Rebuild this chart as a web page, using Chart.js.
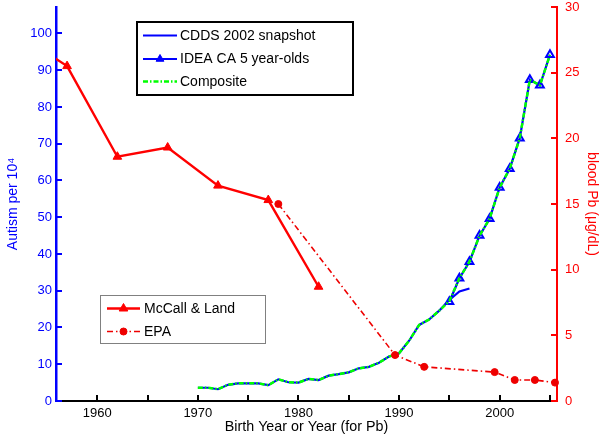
<!DOCTYPE html>
<html>
<head>
<meta charset="utf-8">
<script src="https://cdn.jsdelivr.net/npm/chart.js@4/dist/chart.umd.min.js"></script>
<style>
html,body{margin:0;padding:0;background:#fff;}
#wrap{width:600px;height:438px;position:relative;}
</style>
</head>
<body>
<div id="wrap"><canvas id="c" width="600" height="438"></canvas></div>
<script>
// ---- data ----
const cddsYears = [1970,1971,1972,1973,1974,1975,1976,1977,1978,1979,1980,1981,1982,1983,1984,1985,1986,1987,1988,1989,1990,1991,1992,1993,1994,1995,1996,1997];
const cddsValues = [3.6,3.6,3.2,4.4,4.8,4.8,4.8,4.3,5.9,5.1,5.0,6.0,5.7,6.9,7.3,7.8,8.9,9.3,10.4,12.1,13.0,16.4,20.7,22.2,24.6,27.5,29.8,30.6];

const ideaYears = [1995,1996,1997,1998,1999,2000,2001,2002,2003,2004,2005];
const ideaValues = [27.0,33.4,37.9,45.0,49.6,58.1,63.2,71.5,87.4,85.9,94.2];

const compositeYears = [1970,1971,1972,1973,1974,1975,1976,1977,1978,1979,1980,1981,1982,1983,1984,1985,1986,1987,1988,1989,1990,1991,1992,1993,1994,1995,1996,1997,1998,1999,2000,2001,2002,2003,2004,2005];
const compositeValues = [3.6,3.6,3.2,4.4,4.8,4.8,4.8,4.3,5.9,5.1,5.0,6.0,5.7,6.9,7.3,7.8,8.9,9.3,10.4,12.1,13.0,16.4,20.7,22.2,24.6,27.2,33.4,37.9,45.0,49.6,58.1,63.2,71.5,87.4,85.9,94.2];

const mccallYears = [1955,1957,1962,1967,1972,1977,1982];
const mccallValues = [26.5,25.5,18.6,19.3,16.4,15.3,8.7];

const epaYears = [1978,1989.6,1992.5,1999.5,2001.5,2003.5,2005.5];
const epaValues = [15.0,3.5,2.6,2.2,1.6,1.6,1.4];

const xTickLabels = [1960,1970,1980,1990,2000];

// ---- helpers ----
const pts = (xs, ys) => xs.map((x, i) => ({x: x, y: ys[i]}));
const FONT = '"Liberation Sans", Arial, Helvetica, sans-serif';
Chart.defaults.font.family = FONT;
Chart.defaults.animation = false;

const BLUE = '#0000ff', RED = '#ff0000', GREEN = '#00ff00', EPA_RED = '#ee0000';

// inward tick marks, MATLAB style
const inwardTicks = {
  id: 'inwardTicks',
  afterDraw(chart) {
    const ctx = chart.ctx, a = chart.chartArea;
    const sx = chart.scales.x, sy = chart.scales.y, sy2 = chart.scales.y2;
    ctx.save();
    ctx.lineWidth = 2;
    ctx.strokeStyle = '#000';
    sx.ticks.forEach(t => {
      const p = Math.round(sx.getPixelForValue(t.value));
      ctx.beginPath(); ctx.moveTo(p, a.bottom); ctx.lineTo(p, a.bottom - 6); ctx.stroke();
    });
    ctx.strokeStyle = BLUE;
    sy.ticks.forEach(t => {
      const p = Math.round(sy.getPixelForValue(t.value));
      ctx.beginPath(); ctx.moveTo(a.left, p); ctx.lineTo(a.left + 6, p); ctx.stroke();
    });
    ctx.strokeStyle = RED;
    sy2.ticks.forEach(t => {
      const p = Math.round(sy2.getPixelForValue(t.value));
      ctx.beginPath(); ctx.moveTo(a.right, p); ctx.lineTo(a.right - 6, p); ctx.stroke();
    });
    ctx.restore();
  }
};

// two boxed legends, drawn from the datasets' own styles
const boxLegends = {
  id: 'boxLegends',
  afterDraw(chart) {
    const ctx = chart.ctx;
    const ds = chart.data.datasets;
    const byLabel = l => ds.find(d => d.label === l);
    function frame(x, y, w, h, col, lw) {
      ctx.save();
      ctx.fillStyle = '#fff';
      ctx.fillRect(x, y, w, h);
      ctx.strokeStyle = col; ctx.lineWidth = lw;
      ctx.strokeRect(x, y, w, h);
      ctx.restore();
    }
    function marker(d, x, y) {
      if (!d.pointRadius) return;
      const r = d.pointRadius;
      ctx.save();
      ctx.fillStyle = d.legendMarkerFill || d.borderColor;
      ctx.strokeStyle = d.borderColor;
      ctx.lineWidth = 1;
      ctx.beginPath();
      if (d.pointStyle === 'triangle') {
        ctx.moveTo(x, y - r);
        ctx.lineTo(x + r * 0.866, y + r / 2);
        ctx.lineTo(x - r * 0.866, y + r / 2);
        ctx.closePath();
      } else {
        ctx.arc(x, y, r, 0, Math.PI * 2);
      }
      ctx.fill(); ctx.stroke();
      ctx.restore();
    }
    function row(label, x1, x2, y, tx) {
      const d = byLabel(label);
      ctx.save();
      ctx.strokeStyle = d.borderColor;
      ctx.lineWidth = d.borderWidth;
      ctx.setLineDash(d.borderDash || []);
      ctx.beginPath(); ctx.moveTo(x1, y); ctx.lineTo(x2, y); ctx.stroke();
      ctx.setLineDash([]);
      ctx.restore();
      marker(d, (x1 + x2) / 2, y);
      ctx.save();
      ctx.fillStyle = '#000';
      ctx.font = '14px ' + FONT;
      ctx.textBaseline = 'middle';
      ctx.textAlign = 'left';
      ctx.fillText(label, tx, y + 0.5);
      ctx.restore();
    }
    frame(137, 22, 216, 73, '#000', 2);
    row('CDDS 2002 snapshot', 143, 177, 35.5, 180);
    row('IDEA CA 5 year-olds', 143, 177, 59, 180);
    row('Composite', 143, 177, 81.5, 180);

    frame(100.5, 295.5, 165, 48, '#808080', 1);
    row('McCall & Land', 107, 140, 308.5, 144);
    row('EPA', 107, 140, 331.5, 144);
  }
};

const noPad = s => { s.paddingTop = 0; s.paddingBottom = 0; s.paddingLeft = 0; s.paddingRight = 0; };

new Chart(document.getElementById('c'), {
  type: 'line',
  data: {
    datasets: [
      {
        label: 'EPA', data: pts(epaYears, epaValues), yAxisID: 'y2',
        borderColor: EPA_RED, backgroundColor: EPA_RED, borderWidth: 1.6,
        borderDash: [6, 3, 1.5, 3], pointStyle: 'circle', pointRadius: 3.5,
        pointBorderWidth: 1, pointBackgroundColor: EPA_RED, pointBorderColor: EPA_RED,
        tension: 0, order: 0, clip: 8
      },
      {
        label: 'McCall & Land', data: pts(mccallYears, mccallValues), yAxisID: 'y2',
        borderColor: RED, backgroundColor: RED, borderWidth: 2.4,
        pointStyle: 'triangle', pointRadius: 5, pointBorderWidth: 1,
        pointBackgroundColor: RED, pointBorderColor: RED,
        tension: 0, order: 1, clip: 0
      },
      {
        label: 'Composite', data: pts(compositeYears, compositeValues), yAxisID: 'y',
        borderColor: GREEN, backgroundColor: GREEN, borderWidth: 2.5,
        borderDash: [5, 2, 1.5, 2], pointRadius: 0,
        tension: 0, order: 2
      },
      {
        label: 'IDEA CA 5 year-olds', data: pts(ideaYears, ideaValues), yAxisID: 'y',
        borderColor: BLUE, backgroundColor: 'rgba(0,0,0,0)', borderWidth: 2.2,
        pointStyle: 'triangle', pointRadius: 4.5, pointBorderWidth: 2,
        pointBackgroundColor: 'rgba(0,0,0,0)', pointBorderColor: BLUE,
        legendMarkerFill: BLUE,
        tension: 0, order: 3
      },
      {
        label: 'CDDS 2002 snapshot', data: pts(cddsYears, cddsValues), yAxisID: 'y',
        borderColor: BLUE, backgroundColor: BLUE, borderWidth: 2.2,
        pointRadius: 0, tension: 0, order: 4
      }
    ]
  },
  options: {
    responsive: false,
    animation: false,
    layout: { padding: { top: 7, left: 0, right: 0, bottom: 0 } },
    plugins: { legend: { display: false }, tooltip: { enabled: false } },
    scales: {
      x: {
        type: 'linear', position: 'bottom', min: 1955.9, max: 2005.7,
        grid: { display: false, drawTicks: false },
        border: { display: true, color: '#000', width: 2 },
        ticks: {
          stepSize: 5, includeBounds: false, autoSkip: false, maxRotation: 0,
          color: '#000', font: { size: 13 }, padding: 5,
          callback: v => xTickLabels.includes(v) ? String(v) : ''
        },
        title: { display: true, text: 'Birth Year or Year (for Pb)', color: '#000',
                 font: { size: 14.3 }, padding: { top: 0, bottom: 2 } },
        afterFit: s => { s.height = 37; noPad(s); }
      },
      y: {
        type: 'linear', position: 'left', min: 0, max: 107.2,
        grid: { display: false, drawTicks: false },
        border: { display: true, color: BLUE, width: 2.5 },
        ticks: { stepSize: 10, includeBounds: false, color: BLUE, font: { size: 13 }, padding: 4 },
        title: { display: true, text: 'Autism per 10\u2074', color: BLUE,
                 font: { size: 14 }, padding: { top: 5, bottom: 0 } },
        afterFit: s => { s.width = 56; noPad(s); }
      },
      y2: {
        type: 'linear', position: 'right', min: 0, max: 30,
        grid: { display: false, drawTicks: false },
        border: { display: true, color: RED, width: 2 },
        ticks: { stepSize: 5, includeBounds: false, color: RED, font: { size: 13 }, padding: 8 },
        title: { display: true, text: 'blood Pb (\u03bcg/dL)', color: RED,
                 font: { size: 14 }, padding: { top: 0, bottom: 0 } },
        afterFit: s => { s.width = 43; noPad(s); }
      }
    }
  },
  plugins: [inwardTicks, boxLegends]
});
</script>
</body>
</html>
